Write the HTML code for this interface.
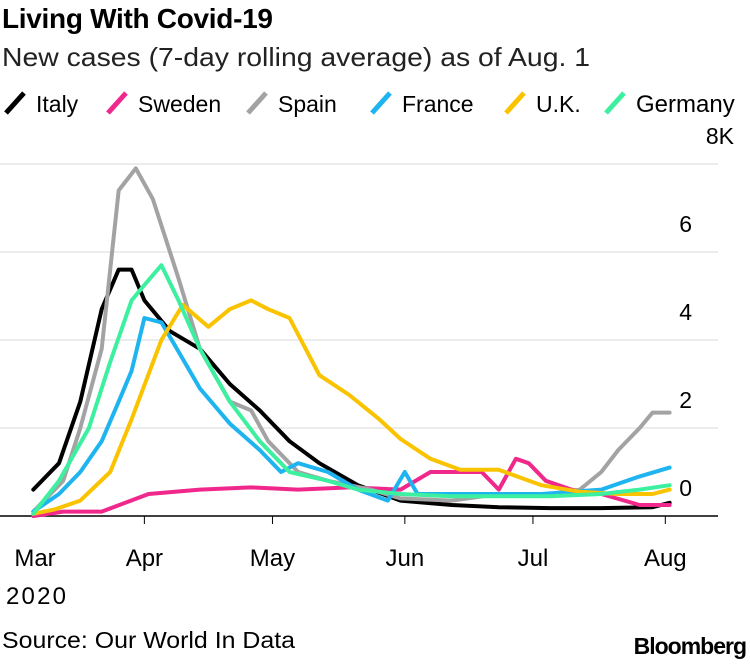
<!DOCTYPE html>
<html><head><meta charset="utf-8"><style>
body{margin:0;background:#fff;width:750px;height:660px;overflow:hidden;font-family:"Liberation Sans",sans-serif}
svg text{font-family:"Liberation Sans",sans-serif}
</style></head><body>
<svg id="c" width="750" height="660">
<text x="2" y="28" font-size="28" font-weight="bold" letter-spacing="-0.3">Living With Covid-19</text>
<text x="2" y="66" font-size="26" fill="#222" textLength="588" lengthAdjust="spacingAndGlyphs">New cases (7-day rolling average) as of Aug. 1</text>
<g id="legend"></g>
<g id="grid"></g><g id="lines"></g>
<text x="2" y="648" font-size="23" textLength="293" lengthAdjust="spacingAndGlyphs">Source: Our World In Data</text>
<text x="746" y="654" font-size="23" font-weight="bold" text-anchor="end" letter-spacing="-1">Bloomberg</text>
</svg>
<script>
const NS="http://www.w3.org/2000/svg";
const yTicks=[0,2,4,6,8];
const yTickLabels=["0","2","4","6","8K"];
const monthDays=[0,31,61,92,122,153];
const monthLabels=["Mar","Apr","May","Jun","Jul","Aug"];
const seriesNames=["Italy","Sweden","Spain","France","U.K.","Germany"];
const seriesColors=["#000000","#f0288c","#a3a3a3","#1eb4f0","#fac300","#3cf0a0"];
const italyDays=[5,11,16,21,25,28,31,37,44,51,58,65,72,81,91,103,114,126,138,150,154];
const italyVals=[0.6,1.2,2.6,4.7,5.6,5.6,4.9,4.2,3.8,3.0,2.4,1.7,1.2,0.7,0.35,0.25,0.2,0.18,0.18,0.2,0.3];
const swedenDays=[5,12,21,32,44,56,67,79,91,98,105,110,114,118,121,125,131,138,147,154];
const swedenVals=[0,0.1,0.1,0.5,0.6,0.65,0.6,0.65,0.6,1.0,1.0,1.0,0.6,1.3,1.2,0.8,0.6,0.5,0.25,0.25];
const spainDays=[5,12,16,21,25,29,33,36,39,44,51,56,60,67,74,84,91,103,114,126,133,138,142,147,150,154];
const spainVals=[0.1,0.8,2.0,3.8,7.4,7.9,7.2,6.3,5.4,3.8,2.6,2.4,1.7,1.0,0.8,0.6,0.4,0.35,0.5,0.5,0.6,1.0,1.5,2.0,2.35,2.35];
const franceDays=[5,11,16,21,25,28,31,35,38,44,51,58,63,67,74,81,88,92,95,103,114,124,138,147,154];
const franceVals=[0.1,0.5,1.0,1.7,2.6,3.3,4.5,4.4,3.9,2.9,2.1,1.5,1.0,1.2,1.0,0.6,0.35,1.0,0.5,0.5,0.5,0.5,0.6,0.9,1.1];
const ukDays=[5,10,16,23,28,35,40,46,51,56,60,65,72,79,86,91,98,105,114,124,133,142,150,154];
const ukVals=[0.05,0.15,0.35,1.0,2.2,4.0,4.8,4.3,4.7,4.9,4.7,4.5,3.2,2.75,2.2,1.75,1.3,1.05,1.05,0.7,0.55,0.5,0.5,0.6];
const germanyDays=[5,11,18,23,28,31,35,39,44,51,58,65,74,81,91,103,114,126,138,147,154];
const germanyVals=[0.05,0.8,2.0,3.5,4.9,5.25,5.7,4.9,3.8,2.6,1.7,1.0,0.8,0.6,0.5,0.45,0.45,0.45,0.5,0.6,0.7];
const allDays=[italyDays,swedenDays,spainDays,franceDays,ukDays,germanyDays];
const allVals=[italyVals,swedenVals,spainVals,franceVals,ukVals,germanyVals];

const x=d=>12+d*4.27;
const y=v=>516-v*44;
function mk(tag,attrs,parent){const e=document.createElementNS(NS,tag);for(const k in attrs)e.setAttribute(k,attrs[k]);parent.appendChild(e);return e;}
const grid=document.getElementById('grid'),lines=document.getElementById('lines'),leg=document.getElementById('legend');
yTicks.forEach((t,i)=>{
  if(t>0){const l=mk('line',{x1:0,x2:718,y1:y(t),y2:y(t),stroke:'#d9d9d9','stroke-width':1},grid);
  
  }
  const tx=mk('text',{x:i==4?734:692,y:y(t)-20,'font-size':23,'text-anchor':'end'},grid);
  tx.textContent=yTickLabels[i];
  
  
});
const ax=mk('line',{x1:0,x2:718,y1:516,y2:516,stroke:'#000','stroke-width':1.5},grid);


monthDays.forEach((d,i)=>{
  if(i>0){const tk=mk('line',{x1:x(d),x2:x(d),y1:516,y2:524,stroke:'#000','stroke-width':1},grid);
  
  }
  const tx=mk('text',{x:i==0?35:x(d),y:566,'font-size':24,'text-anchor':'middle'},grid);
  tx.textContent=monthLabels[i];
  
  
});
const yr=mk('text',{x:6,y:604,'font-size':24,textLength:60},grid);yr.textContent="2020";


allDays.forEach((ds,i)=>{
  const pts=ds.map((d,j)=>x(d).toFixed(1)+','+y(allVals[i][j]).toFixed(1)).join(' ');
  const p=mk('polyline',{points:pts,fill:'none',stroke:seriesColors[i],'stroke-width':4,'stroke-linejoin':'round','stroke-linecap':'round'},lines);
  
  
});
const legX=[4,106,246,370,504,604];
seriesNames.forEach((n,i)=>{
  const g=mk('g',{},leg);
  
  
  mk('line',{x1:legX[i]+2,y1:113,x2:legX[i]+20,y2:93,stroke:seriesColors[i],'stroke-width':5},g);
  const t=mk('text',{x:legX[i]+32,y:112,'font-size':i==5?24:23},g);t.textContent=n;
});
</script>
</body></html>
